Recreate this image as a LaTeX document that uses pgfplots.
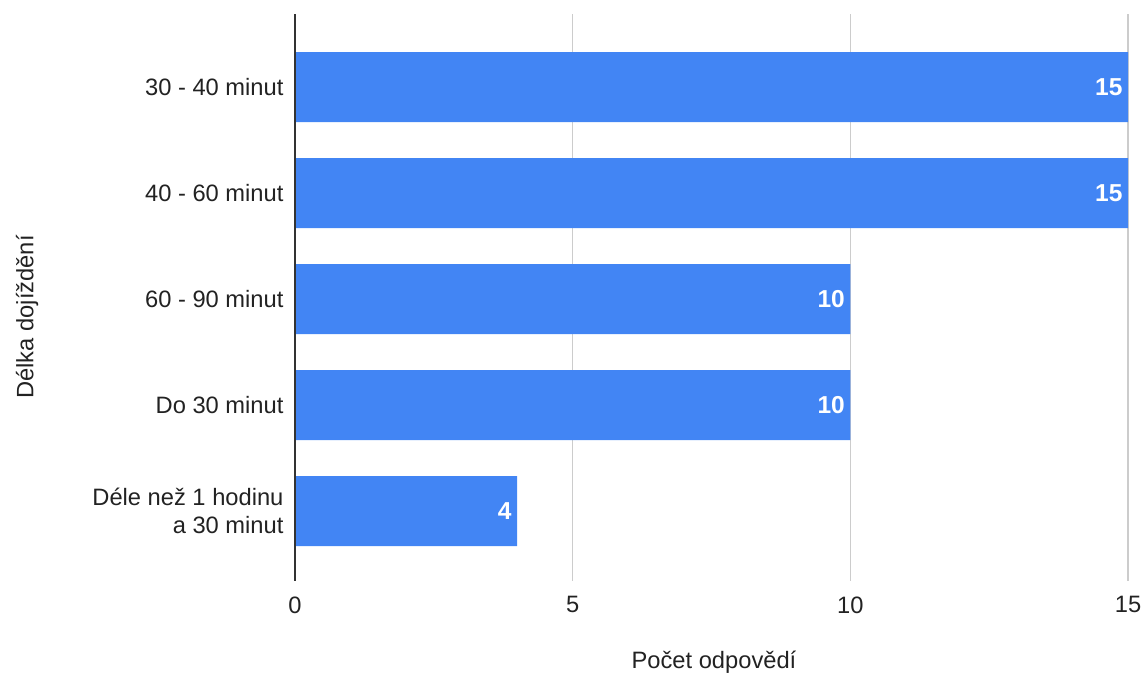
\documentclass[border=0pt]{standalone}
\usepackage{fontspec}
\setmainfont{Liberation Sans}
\usepackage{pgfplots}
\pgfplotsset{compat=1.18}
\definecolor{barblue}{HTML}{4285F4}
\definecolor{gridgrey}{HTML}{CCCCCC}
\definecolor{txt}{HTML}{222222}
\begin{document}
\begin{tikzpicture}
\useasboundingbox (0,0) rectangle (1144pt,675pt);
\begin{axis}[
  at={(295pt,661pt)}, anchor=north west,
  scale only axis, width=833pt, height=567pt,
  font=\fontsize{23.7}{27.5}\selectfont,
  /pgf/number format/assume math mode=true,
  xbar, bar width=70pt,
  xmin=0, xmax=15,
  ymin=-0.69, ymax=4.66, y dir=reverse,
  xtick={0,5,10,15},
  ytick={0,1,2,3,4},
  yticklabels={30 - 40 minut, 40 - 60 minut, 60 - 90 minut, Do 30 minut, {Déle než 1 hodinu\\a 30 minut}},
  yticklabel style={align=right, text=txt, xshift=-8pt},
  xticklabel style={text=txt, yshift=-12pt},
  major tick length=0pt,
  axis line style={draw=none},
  xmajorgrids, grid style={gridgrey, line width=1.3pt},
  xlabel={Počet odpovědí},
  ylabel={Délka dojíždění},
  xlabel style={at={(axis description cs:0.503,-0.1429)}, anchor=center, text=txt},
  ylabel style={at={(axis description cs:-0.3217,0.4656)}, anchor=center, rotate=0, text=txt},
  nodes near coords,
  point meta=x,
  every node near coord/.append style={anchor=east, text=white, xshift=-2pt, font=\fontsize{24.5}{28}\selectfont\bfseries},
  clip=false,
]
\addplot[fill=barblue, draw=none] coordinates {(15,0) (15,1) (10,2) (10,3) (4,4)};
\draw[black!80, line width=1.3pt] (axis cs:0,-0.69) -- (axis cs:0,4.66);
\end{axis}
\end{tikzpicture}
\end{document}
